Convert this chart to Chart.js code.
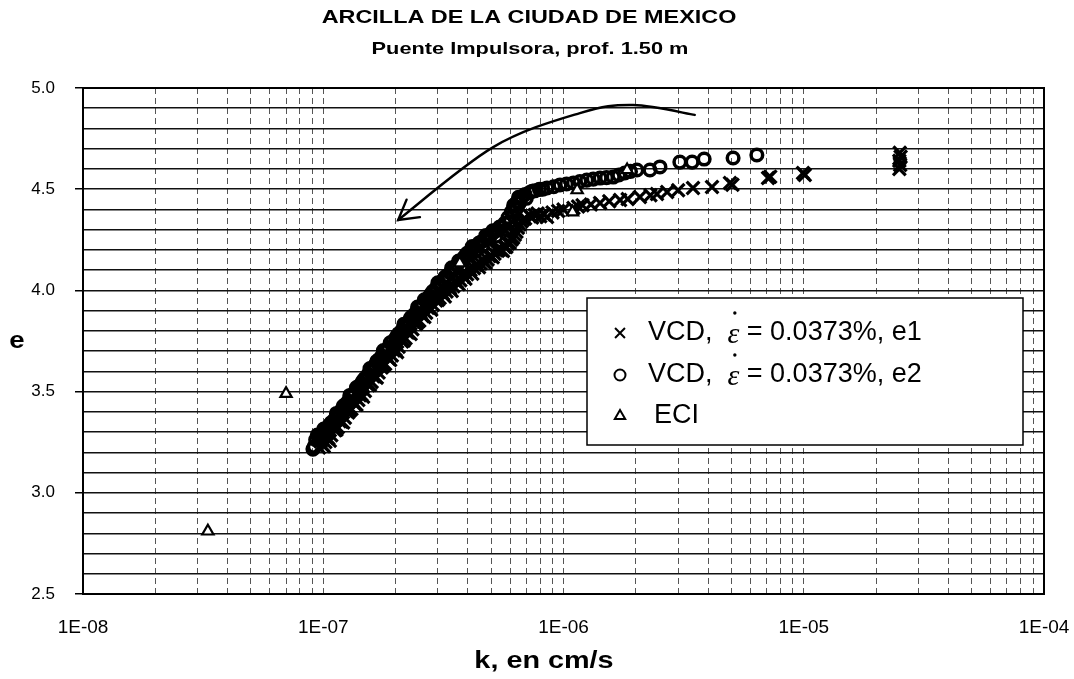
<!DOCTYPE html>
<html>
<head>
<meta charset="utf-8">
<script src="https://cdn.jsdelivr.net/npm/chart.js@4.4.1/dist/chart.umd.min.js"></script>
<style>
  html, body { margin: 0; padding: 0; background: #fff; }
  canvas { display: block; }
</style>
</head>
<body>
<canvas id="chart" width="1074" height="679"></canvas>
<script>
// Texts
const titleText = 'ARCILLA DE LA CIUDAD DE MEXICO';
const subtitleText = 'Puente Impulsora, prof. 1.50 m';
const xAxisTitle = 'k, en cm/s';
const yAxisTitle = 'e';

// Axis ticks
const xTickValues = [1e-8, 1e-7, 1e-6, 1e-5, 1e-4];
const xTickLabels = ['1E-08', '1E-07', '1E-06', '1E-05', '1E-04'];
const yTickLabels = ['2.5', '3.0', '3.5', '4.0', '4.5', '5.0'];

// Series labels
const labelE1 = 'VCD,  \u03B5\u0307 = 0.0373%, e1';
const labelE2 = 'VCD,  \u03B5\u0307 = 0.0373%, e2';
const labelECI = 'ECI';

// VCD test, void ratio e1 vs permeability k (cm/s)
const e1K = [9.6e-8, 9.9e-8, 1.02e-7, 1.05e-7, 1.08e-7, 1.12e-7, 1.15e-7, 1.19e-7, 1.23e-7, 1.27e-7,
  1.31e-7, 1.35e-7, 1.40e-7, 1.44e-7, 1.49e-7, 1.54e-7, 1.59e-7, 1.64e-7, 1.70e-7, 1.75e-7,
  1.81e-7, 1.87e-7, 1.93e-7, 2.00e-7, 2.06e-7, 2.13e-7, 2.20e-7, 2.27e-7, 2.35e-7, 2.43e-7,
  2.51e-7, 2.59e-7, 2.68e-7, 2.77e-7, 2.86e-7, 2.95e-7, 3.05e-7, 3.15e-7, 3.26e-7, 3.37e-7,
  3.48e-7, 3.60e-7, 3.72e-7, 3.84e-7, 3.97e-7, 4.10e-7, 4.24e-7, 4.38e-7, 4.52e-7, 4.67e-7,
  4.83e-7, 4.99e-7, 5.16e-7, 5.33e-7, 5.51e-7, 5.69e-7, 5.88e-7, 6.07e-7, 6.27e-7, 6.46e-7,
  6.68e-7, 6.92e-7, 7.24e-7, 7.59e-7, 8.00e-7, 8.54e-7, 9.00e-7, 9.50e-7, 1.00e-6, 1.10e-6,
  1.15e-6, 1.20e-6, 1.30e-6, 1.42e-6, 1.55e-6, 1.72e-6, 1.85e-6, 2.08e-6, 2.30e-6, 2.45e-6,
  2.70e-6, 3.00e-6, 3.46e-6, 4.15e-6, 4.93e-6, 5.05e-6, 7.10e-6, 7.25e-6, 9.93e-6, 1.01e-5,
  2.50e-5, 2.52e-5, 2.50e-5, 2.53e-5, 2.51e-5,
  9.75e-8, 1.005e-7, 1.035e-7, 1.065e-7, 1.10e-7, 1.135e-7, 1.17e-7, 1.21e-7, 1.25e-7, 1.29e-7,
  1.33e-7, 1.375e-7, 1.42e-7, 1.465e-7, 1.515e-7, 1.565e-7, 1.615e-7, 1.67e-7, 1.725e-7, 1.78e-7,
  1.84e-7, 1.90e-7, 1.965e-7, 2.03e-7, 2.095e-7, 2.165e-7, 2.235e-7, 2.31e-7, 2.39e-7, 2.47e-7,
  2.55e-7, 2.635e-7, 2.725e-7, 2.815e-7, 2.905e-7, 3.00e-7, 3.10e-7, 3.205e-7, 3.315e-7, 3.425e-7,
  3.54e-7, 3.66e-7, 3.78e-7, 3.905e-7, 4.035e-7, 4.17e-7, 4.31e-7, 4.45e-7, 4.595e-7, 4.75e-7,
  4.91e-7, 5.075e-7, 5.245e-7, 5.42e-7, 5.60e-7, 5.785e-7, 5.975e-7, 6.17e-7, 6.37e-7, 6.57e-7,
  6.80e-7, 7.40e-7, 7.80e-7, 8.30e-7];
const e1E = [3.224, 3.238, 3.251, 3.270, 3.284, 3.309, 3.324, 3.352, 3.371, 3.397,
  3.414, 3.440, 3.459, 3.485, 3.503, 3.531, 3.548, 3.575, 3.594, 3.619,
  3.636, 3.663, 3.678, 3.707, 3.721, 3.748, 3.764, 3.791, 3.808, 3.834,
  3.850, 3.874, 3.889, 3.915, 3.929, 3.950, 3.962, 3.983, 3.994, 4.012,
  4.021, 4.041, 4.050, 4.069, 4.080, 4.101, 4.110, 4.128, 4.133, 4.140,
  4.152, 4.170, 4.181, 4.196, 4.200, 4.215, 4.232, 4.250, 4.275, 4.310,
  4.340, 4.355, 4.368, 4.372, 4.366, 4.363, 4.385, 4.392, 4.400, 4.407,
  4.414, 4.421, 4.425, 4.432, 4.440, 4.447, 4.451, 4.461, 4.470, 4.476,
  4.486, 4.495, 4.506, 4.511, 4.531, 4.522, 4.555, 4.562, 4.580, 4.570,
  4.600, 4.620, 4.640, 4.660, 4.680,
  3.253, 3.230, 3.271, 3.257, 3.327, 3.312, 3.353, 3.347, 3.404, 3.406,
  3.452, 3.435, 3.482, 3.474, 3.547, 3.534, 3.576, 3.569, 3.626, 3.628,
  3.675, 3.656, 3.703, 3.695, 3.765, 3.752, 3.793, 3.785, 3.842, 3.843,
  3.888, 3.868, 3.914, 3.904, 3.963, 3.952, 3.991, 3.970, 4.019, 3.997,
  4.046, 4.030, 4.078, 4.057, 4.108, 4.082, 4.126, 4.114, 4.152, 4.136,
  4.170, 4.164, 4.198, 4.203, 4.195, 4.215, 4.235, 4.260, 4.290, 4.325,
  4.350, 4.360, 4.380, 4.375];

// VCD test, void ratio e2 vs permeability k (cm/s)
const e2K = [9.06e-8, 9.3e-8, 9.6e-8, 9.9e-8, 1.02e-7, 1.05e-7, 1.08e-7, 1.12e-7, 1.15e-7, 1.19e-7,
  1.23e-7, 1.27e-7, 1.31e-7, 1.35e-7, 1.40e-7, 1.44e-7, 1.49e-7, 1.54e-7, 1.59e-7, 1.64e-7,
  1.70e-7, 1.75e-7, 1.81e-7, 1.87e-7, 1.93e-7, 2.00e-7, 2.06e-7, 2.13e-7, 2.20e-7, 2.27e-7,
  2.35e-7, 2.43e-7, 2.51e-7, 2.59e-7, 2.68e-7, 2.77e-7, 2.86e-7, 2.95e-7, 3.05e-7, 3.15e-7,
  3.26e-7, 3.37e-7, 3.48e-7, 3.60e-7, 3.72e-7, 3.84e-7, 3.97e-7, 4.10e-7, 4.24e-7, 4.38e-7,
  4.52e-7, 4.67e-7, 4.83e-7, 4.99e-7, 5.16e-7, 5.33e-7, 5.51e-7, 5.69e-7, 5.88e-7, 6.07e-7,
  6.27e-7, 6.46e-7, 6.68e-7, 6.92e-7, 7.24e-7, 7.59e-7, 7.94e-7, 8.54e-7, 9.10e-7, 9.67e-7,
  1.03e-6, 1.10e-6, 1.17e-6, 1.25e-6, 1.33e-6, 1.42e-6, 1.51e-6, 1.61e-6, 1.70e-6, 1.80e-6,
  1.90e-6, 2.02e-6, 2.29e-6, 2.52e-6, 3.05e-6, 3.43e-6, 3.85e-6, 5.08e-6, 6.38e-6,
  9.18e-8, 9.45e-8, 9.75e-8, 1.005e-7, 1.035e-7, 1.065e-7, 1.10e-7, 1.135e-7, 1.17e-7, 1.21e-7,
  1.25e-7, 1.29e-7, 1.33e-7, 1.375e-7, 1.42e-7, 1.465e-7, 1.515e-7, 1.565e-7, 1.615e-7, 1.67e-7,
  1.725e-7, 1.78e-7, 1.84e-7, 1.90e-7, 1.965e-7, 2.03e-7, 2.095e-7, 2.165e-7, 2.235e-7, 2.31e-7,
  2.39e-7, 2.47e-7, 2.55e-7, 2.635e-7, 2.725e-7, 2.815e-7, 2.905e-7, 3.00e-7, 3.10e-7, 3.205e-7,
  3.315e-7, 3.425e-7, 3.54e-7, 3.66e-7, 3.78e-7, 3.905e-7, 4.035e-7, 4.17e-7, 4.31e-7, 4.45e-7,
  4.595e-7, 4.75e-7, 4.91e-7, 5.075e-7, 5.245e-7, 5.42e-7,
  5.80e-7, 6.00e-7, 6.20e-7, 6.35e-7, 6.55e-7, 6.20e-7, 6.50e-7, 7.00e-7, 7.40e-7, 8.20e-7];
const e2E = [3.216, 3.262, 3.281, 3.294, 3.315, 3.327, 3.347, 3.366, 3.388, 3.408,
  3.435, 3.452, 3.478, 3.495, 3.524, 3.540, 3.566, 3.586, 3.611, 3.630,
  3.657, 3.674, 3.700, 3.718, 3.743, 3.763, 3.786, 3.804, 3.829, 3.846,
  3.873, 3.890, 3.915, 3.930, 3.955, 3.972, 3.995, 4.010, 4.034, 4.048,
  4.071, 4.086, 4.108, 4.124, 4.146, 4.160, 4.183, 4.193, 4.211, 4.220,
  4.238, 4.247, 4.265, 4.274, 4.290, 4.298, 4.312, 4.331, 4.360, 4.388,
  4.416, 4.440, 4.458, 4.474, 4.484, 4.492, 4.499, 4.506, 4.512, 4.521,
  4.526, 4.531, 4.538, 4.545, 4.550, 4.555, 4.557, 4.560, 4.570, 4.580,
  4.588, 4.595, 4.595, 4.610, 4.634, 4.634, 4.649, 4.654, 4.669,
  3.229, 3.285, 3.278, 3.315, 3.291, 3.337, 3.342, 3.392, 3.378, 3.427,
  3.419, 3.481, 3.477, 3.520, 3.502, 3.554, 3.562, 3.614, 3.601, 3.649,
  3.641, 3.703, 3.700, 3.741, 3.723, 3.775, 3.780, 3.832, 3.818, 3.865,
  3.857, 3.918, 3.913, 3.953, 3.934, 3.984, 3.988, 4.037, 4.021, 4.065,
  4.054, 4.112, 4.106, 4.145, 4.123, 4.172, 4.173, 4.217, 4.196, 4.234,
  4.217, 4.271, 4.260, 4.294, 4.268, 4.313,
  4.300, 4.340, 4.370, 4.400, 4.430, 4.420, 4.460, 4.455, 4.490, 4.500];

// ECI test
const eciK = [3.31e-8, 7.0e-8, 3.7e-7, 1.09e-6, 1.14e-6, 1.84e-6];
const eciE = [2.81, 3.49, 4.135, 4.387, 4.496, 4.595];

// Hand-drawn arrow (k, e) along the curve, ending at the head
const arrowK = [3.52e-6, 1.95e-6, 1.17e-6, 5.1e-7, 2.05e-7];
const arrowE = [4.867, 4.916, 4.876, 4.708, 4.348];

const FONT = "'Liberation Sans', Arial, Helvetica, sans-serif";

const toPoints = (ks, es) => ks.map((k, i) => ({ x: k, y: es[i] }));

// Text drawn with a horizontal stretch factor
function stretchedText(ctx, text, x, y, sx) {
  ctx.save();
  ctx.translate(x, y);
  ctx.scale(sx, 1);
  ctx.fillText(text, 0, 0);
  ctx.restore();
}

// Frame around the plot area
const framePlugin = {
  id: 'frame',
  beforeDatasetsDraw(chart) {
    const { ctx, chartArea: a } = chart;
    ctx.save();
    ctx.strokeStyle = '#000';
    ctx.lineWidth = 2;
    ctx.strokeRect(a.left, a.top, a.right - a.left, a.bottom - a.top);
    ctx.restore();
  }
};

// Curved arrow drawn in data coordinates
const arrowPlugin = {
  id: 'arrow',
  afterDatasetsDraw(chart) {
    const { ctx, scales } = chart;
    const pts = arrowK.map((k, i) => ({ x: scales.x.getPixelForValue(k), y: scales.y.getPixelForValue(arrowE[i]) }));
    ctx.save();
    ctx.strokeStyle = '#000';
    ctx.lineWidth = 2.4;
    ctx.lineCap = 'round';
    ctx.beginPath();
    ctx.moveTo(pts[0].x, pts[0].y);
    let lastCp = pts[0];
    for (let i = 0; i < pts.length - 1; i++) {
      const p0 = pts[i - 1] || pts[i], p1 = pts[i], p2 = pts[i + 1], p3 = pts[i + 2] || pts[i + 1];
      const c1 = { x: p1.x + (p2.x - p0.x) / 6, y: p1.y + (p2.y - p0.y) / 6 };
      const c2 = { x: p2.x - (p3.x - p1.x) / 6, y: p2.y - (p3.y - p1.y) / 6 };
      ctx.bezierCurveTo(c1.x, c1.y, c2.x, c2.y, p2.x, p2.y);
      lastCp = c2;
    }
    ctx.stroke();
    const tip = pts[pts.length - 1];
    const ang = Math.atan2(lastCp.y - tip.y, lastCp.x - tip.x);
    const len = 22, spread = Math.PI / 6;
    ctx.beginPath();
    ctx.moveTo(tip.x + len * Math.cos(ang - spread), tip.y + len * Math.sin(ang - spread));
    ctx.lineTo(tip.x, tip.y);
    ctx.lineTo(tip.x + len * Math.cos(ang + spread), tip.y + len * Math.sin(ang + spread));
    ctx.stroke();
    ctx.restore();
  }
};

// Titles and axis titles
const textPlugin = {
  id: 'texts',
  afterDraw(chart) {
    const { ctx } = chart;
    ctx.save();
    ctx.fillStyle = '#000';
    ctx.textAlign = 'center';
    ctx.textBaseline = 'middle';
    ctx.font = 'bold 18px ' + FONT;
    stretchedText(ctx, titleText, 529, 18, 1.3);
    ctx.font = 'bold 17px ' + FONT;
    stretchedText(ctx, subtitleText, 530, 49, 1.28);
    ctx.font = 'bold 24px ' + FONT;
    stretchedText(ctx, xAxisTitle, 544, 661, 1.2);
    stretchedText(ctx, yAxisTitle, 17, 341, 1.15);
    ctx.restore();
  }
};

// Legend box inside the plot
const legendPlugin = {
  id: 'boxLegend',
  afterDraw(chart) {
    const { ctx } = chart;
    const box = { left: 587, top: 298, right: 1023, bottom: 445 };
    const rows = [333, 375, 416];
    ctx.save();
    ctx.fillStyle = '#fff';
    ctx.fillRect(box.left, box.top, box.right - box.left, box.bottom - box.top);
    ctx.strokeStyle = '#000';
    ctx.lineWidth = 1.5;
    ctx.strokeRect(box.left, box.top, box.right - box.left, box.bottom - box.top);
    chart.data.datasets.forEach((ds, i) => {
      const y = rows[i];
      ctx.strokeStyle = '#000';
      ctx.fillStyle = ds.pointBackgroundColor;
      ctx.lineWidth = 2;
      Chart.helpers.drawPoint(ctx, { pointStyle: ds.pointStyle, radius: ds.legendRadius, rotation: 0, borderWidth: 2 }, 620, y);
      ctx.fillStyle = '#000';
      ctx.textBaseline = 'middle';
      ctx.textAlign = 'left';
      const parts = ds.label.split('\u03B5\u0307');
      let x = ds.label === labelECI ? 654 : 648;
      ctx.font = '27px ' + FONT;
      ctx.fillText(parts[0], x, y);
      x += ctx.measureText(parts[0]).width;
      if (parts.length > 1) {
        ctx.font = 'italic 30px "Liberation Serif", serif';
        ctx.fillText('\u03B5', x, y + 2);
        const w = ctx.measureText('\u03B5').width;
        ctx.beginPath();
        ctx.arc(x + w * 0.62, y - 20, 1.7, 0, Math.PI * 2);
        ctx.fill();
        x += w;
        ctx.font = '27px ' + FONT;
        ctx.fillText(parts[1], x, y);
      }
    });
    ctx.restore();
  }
};

new Chart(document.getElementById('chart'), {
  type: 'scatter',
  data: {
    datasets: [
      {
        label: labelE1, data: toPoints(e1K, e1E), order: 2,
        pointStyle: 'crossRot', pointRadius: 9, pointBorderWidth: 3.2, legendRadius: 7,
        pointBorderColor: '#000', pointBackgroundColor: 'rgba(0,0,0,0)', borderColor: '#000', showLine: false
      },
      {
        label: labelE2, data: toPoints(e2K, e2E), order: 1,
        pointStyle: 'circle', pointRadius: 5.8, pointBorderWidth: 3.5, legendRadius: 5.5,
        pointBorderColor: '#000', pointBackgroundColor: 'rgba(0,0,0,0)', borderColor: '#000', showLine: false
      },
      {
        label: labelECI, data: toPoints(eciK, eciE), order: 0,
        pointStyle: 'triangle', pointRadius: 6.5, pointBorderWidth: 2.2, legendRadius: 6,
        pointBorderColor: '#000', pointBackgroundColor: '#fff', borderColor: '#000', showLine: false
      }
    ]
  },
  options: {
    responsive: false,
    animation: false,
    devicePixelRatio: 1,
    layout: { padding: { left: 0, right: 30, top: 88, bottom: 0 } },
    plugins: { legend: { display: false }, tooltip: { enabled: false }, title: { display: false } },
    scales: {
      x: {
        type: 'logarithmic', min: 1e-8, max: 1e-4,
        afterBuildTicks(scale) {
          const t = [];
          xTickValues.forEach((d, i) => {
            if (i < xTickValues.length - 1) { for (let m = 1; m < 10; m++) t.push({ value: d * m }); }
            else t.push({ value: d });
          });
          scale.ticks = t;
        },
        afterFit(scale) { scale.height = 85; scale.paddingLeft = 0; scale.paddingRight = 0; },
        ticks: {
          autoSkip: false, maxRotation: 0, minRotation: 0, padding: 22,
          color: '#000', font: { family: FONT, size: 19 },
          callback(value) {
            const i = xTickValues.findIndex(d => Math.abs(d - value) / d < 1e-6);
            return i >= 0 ? xTickLabels[i] : '';
          }
        },
        grid: { color: '#555', lineWidth: 1, drawTicks: false },
        border: { display: false, dash: [6, 4] }
      },
      y: {
        type: 'linear', min: 2.5, max: 5.0,
        afterFit(scale) { scale.width = 83; },
        ticks: {
          stepSize: 0.1, autoSkip: false, padding: 20,
          color: '#000', font: { family: FONT, size: 17 },
          callback(value) {
            const l = yTickLabels.find(s => Math.abs(parseFloat(s) - value) < 1e-6);
            return l || '';
          }
        },
        grid: {
          color: '#111', lineWidth: 1.5, tickLength: 8,
          tickColor: (c) => (c.tick && c.tick.label ? '#000' : 'rgba(0,0,0,0)')
        },
        border: { display: false }
      }
    }
  },
  plugins: [framePlugin, arrowPlugin, textPlugin, legendPlugin]
});
</script>
</body>
</html>
